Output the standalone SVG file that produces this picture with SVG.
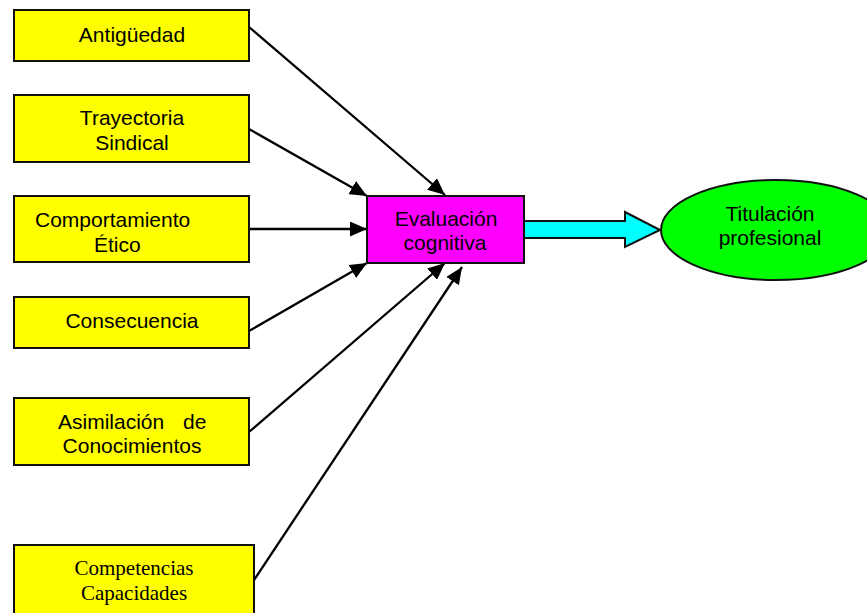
<svg xmlns="http://www.w3.org/2000/svg" width="867" height="613" viewBox="0 0 867 613">
  <style>
    .box { fill: #FFFF00; stroke: #111; stroke-width: 2; }
    .t { font-family: "Liberation Sans", Arial, sans-serif; font-size: 21px; fill: #000; }
    .tc { text-anchor: middle; }
    .ts { font-family: "Liberation Serif", "Times New Roman", serif; font-size: 21px; fill: #000; text-anchor: middle; }
    .conn { stroke: #000; stroke-width: 2.3; fill: none; marker-end: url(#ah); }
  </style>
  <defs>
    <marker id="ah" markerUnits="userSpaceOnUse" markerWidth="19" markerHeight="15" refX="17" refY="7.5" orient="auto">
      <path d="M0,0 L17,7.5 L0,15 Z" fill="#000"/>
    </marker>
    <clipPath id="evalClip">
      <rect x="367" y="196" width="157" height="67"/>
    </clipPath>
  </defs>
  <rect width="867" height="613" fill="#fff"/>

  <g id="connectors">
    <line class="conn" x1="249" y1="27" x2="445" y2="195"/>
    <line class="conn" x1="249" y1="129" x2="367" y2="196"/>
    <line class="conn" x1="249" y1="229" x2="367" y2="229"/>
    <line class="conn" x1="249" y1="331" x2="367" y2="263"/>
    <line class="conn" x1="249" y1="432" x2="445" y2="263"/>
    <line class="conn" x1="254" y1="580" x2="462" y2="267"/>
    <path id="blockArrow" d="M524,221 L625,221 L625,212 L660,230 L625,247 L625,238 L524,238 Z" fill="#00FFFF" stroke="#111" stroke-width="2"/>
  </g>

  <g id="antiguedad">
    <rect class="box" x="14" y="10" width="235" height="51"/>
    <text class="t tc" x="132" y="42">Antigüedad</text>
  </g>
  <g id="trayectoria">
    <rect class="box" x="14" y="95" width="235" height="67"/>
    <text class="t tc" x="132" y="125">Trayectoria</text>
    <text class="t tc" x="132" y="150">Sindical</text>
  </g>
  <g id="comportamiento">
    <rect class="box" x="14" y="196" width="235" height="66"/>
    <text class="t" x="35" y="227">Comportamiento</text>
    <text class="t" x="94" y="252">Ético</text>
  </g>
  <g id="consecuencia">
    <rect class="box" x="14" y="297" width="235" height="51"/>
    <text class="t tc" x="132" y="328">Consecuencia</text>
  </g>
  <g id="asimilacion">
    <rect class="box" x="14" y="398" width="235" height="67"/>
    <text class="t" x="58" y="429">Asimilación</text>
    <text class="t" x="183" y="429">de</text>
    <text class="t tc" x="132" y="453">Conocimientos</text>
  </g>
  <g id="competencias">
    <rect class="box" x="14" y="545" width="240" height="80"/>
    <text class="ts" x="134" y="575">Competencias</text>
    <text class="ts" x="134" y="600">Capacidades</text>
  </g>
  <g id="evaluacion">
    <rect x="367" y="196" width="157" height="67" fill="#FF00FF" stroke="#111" stroke-width="2"/>
    <g clip-path="url(#evalClip)">
      <text class="t tc" x="446" y="226">Evaluación</text>
      <text class="t tc" x="445" y="250">cognitiva</text>
    </g>
  </g>
  <g id="titulacion">
    <ellipse cx="776" cy="230" rx="115" ry="50" fill="#00FF00" stroke="#111" stroke-width="2"/>
    <text class="t tc" x="770" y="221">Titulación</text>
    <text class="t tc" x="770" y="245">profesional</text>
  </g>
</svg>
